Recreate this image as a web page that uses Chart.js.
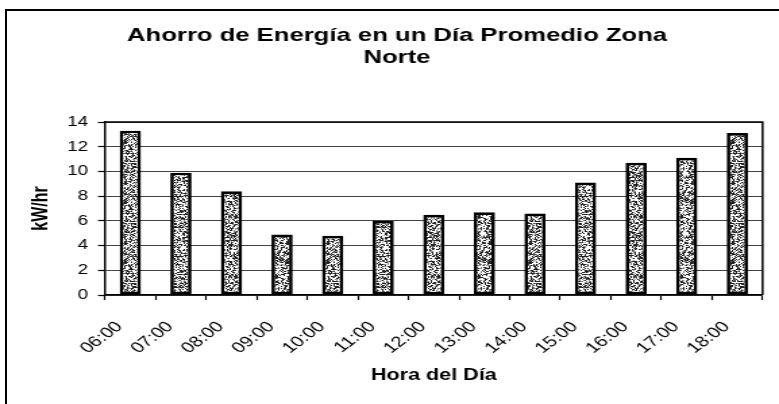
<!DOCTYPE html>
<html>
<head>
<meta charset="utf-8">
<script src="https://cdn.jsdelivr.net/npm/chart.js@4/dist/chart.umd.min.js"></script>
<style>
  body { margin: 0; background: #fff; }
  #wrap { position: relative; width: 779px; height: 404px; overflow: hidden; }
  #frame { position: absolute; left: 5px; top: 9px; right: -4px; bottom: -4px;
           border-left: 2px solid #000; border-top: 2px solid #000; }
  canvas { position: absolute; left: 0; top: 0; }
</style>
</head>
<body>
<div id="wrap">
  <div id="frame"></div>
  <!-- drawn on a narrower canvas and widened by CSS: the whole chart has a wide aspect -->
  <canvas id="ahorroChart" width="577" height="404" style="width:779px;height:404px"></canvas>
</div>
<script>
const horas = ["06:00", "07:00", "08:00", "09:00", "10:00", "11:00", "12:00",
               "13:00", "14:00", "15:00", "16:00", "17:00", "18:00"];
const ahorro = [13.3, 9.9, 8.4, 4.9, 4.8, 6.0, 6.5, 6.7, 6.6, 9.1, 10.7, 11.1, 13.1];
const yTicks = [0, 2, 4, 6, 8, 10, 12, 14];

const FONT = "Arial, 'Liberation Sans', sans-serif";

// speckled grey fill for the bars (fixed hash, same texture every time)
function speckle() {
    const c = document.createElement("canvas");
    c.width = 30; c.height = 60;
    const g = c.getContext("2d");
    g.fillStyle = "#fff";
    g.fillRect(0, 0, c.width, c.height);
    for (let y = 0; y < c.height; y++) {
        for (let x = 0; x < c.width; x++) {
            let h = (x * 374761393 + y * 668265263) ^ 0x5bd1e995;
            h = Math.imul(h ^ (h >>> 13), 1274126177);
            h = (h ^ (h >>> 16)) >>> 0;
            const v = h % 100;
            if (v < 36) { g.fillStyle = "#222"; g.fillRect(x, y, 1, 1); }
            else if (v < 52) { g.fillStyle = "#888"; g.fillRect(x, y, 1, 1); }
        }
    }
    return g.createPattern(c, "repeat");
}

// solid box around the plot area (top and right sides)
const plotBox = {
    id: "plotBox",
    afterDatasetsDraw(chart) {
        const a = chart.chartArea, ctx = chart.ctx;
        ctx.save();
        ctx.strokeStyle = "#000";
        ctx.lineWidth = 1.5;
        ctx.beginPath();
        ctx.moveTo(a.left, a.top);
        ctx.lineTo(a.right, a.top);
        ctx.lineTo(a.right, a.bottom);
        ctx.stroke();
        ctx.restore();
    }
};

const canvas = document.getElementById("ahorroChart");
new Chart(canvas, {
    type: "bar",
    data: {
        labels: horas,
        datasets: [{
            label: "Ahorro",
            data: ahorro,
            backgroundColor: speckle(),
            borderColor: "#000",
            borderWidth: 2.7,
            borderSkipped: false,
            barPercentage: 0.42,
            categoryPercentage: 1.0
        }]
    },
    options: {
        responsive: false,
        animation: false,
        layout: { padding: { left: 15.6, right: 4.4, top: 0, bottom: 0 } },
        plugins: {
            legend: { display: false },
            tooltip: { enabled: false },
            title: {
                display: true,
                text: ["Ahorro de Energía en un Día Promedio Zona", "Norte"],
                color: "#000",
                font: { family: FONT, size: 19, weight: "bold", lineHeight: 1.2 },
                padding: { top: 24, bottom: 52.4 }
            }
        },
        scales: {
            x: {
                afterFit: s => { s.height = 109; },
                grid: {
                    drawOnChartArea: false,
                    drawTicks: true,
                    tickLength: 5,
                    tickColor: "#000",
                    tickWidth: 1.2
                },
                border: { display: true, color: "#000", width: 1.5 },
                ticks: {
                    color: "#000",
                    font: { family: FONT, size: 15 },
                    minRotation: 45,
                    maxRotation: 45,
                    padding: 18,
                    labelOffset: -8
                },
                title: {
                    display: true,
                    text: "Hora del Día",
                    color: "#000",
                    font: { family: FONT, size: 16, weight: "bold" },
                    padding: { top: 0, bottom: 19 }
                }
            },
            y: {
                min: 0,
                max: 14,
                afterFit: s => { s.width = 62.2; },
                afterBuildTicks: s => { s.ticks = yTicks.map(v => ({ value: v })); },
                grid: {
                    color: "#444",
                    lineWidth: 1,
                    borderDash: [6, 3],
                    drawTicks: true,
                    tickLength: 5.2,
                    tickColor: "#000",
                    tickWidth: 1.2,
                    tickBorderDash: []
                },
                border: { display: true, color: "#000", width: 1.5 },
                ticks: {
                    color: "#000",
                    font: { family: FONT, size: 14 },
                    padding: 7.4
                },
                title: {
                    display: true,
                    text: "kW/hr",
                    color: "#000",
                    font: { family: FONT, size: 16, weight: "bold" },
                    padding: { top: 5.5, bottom: 0 }
                }
            }
        }
    },
    plugins: [plotBox]
});
</script>
</body>
</html>
